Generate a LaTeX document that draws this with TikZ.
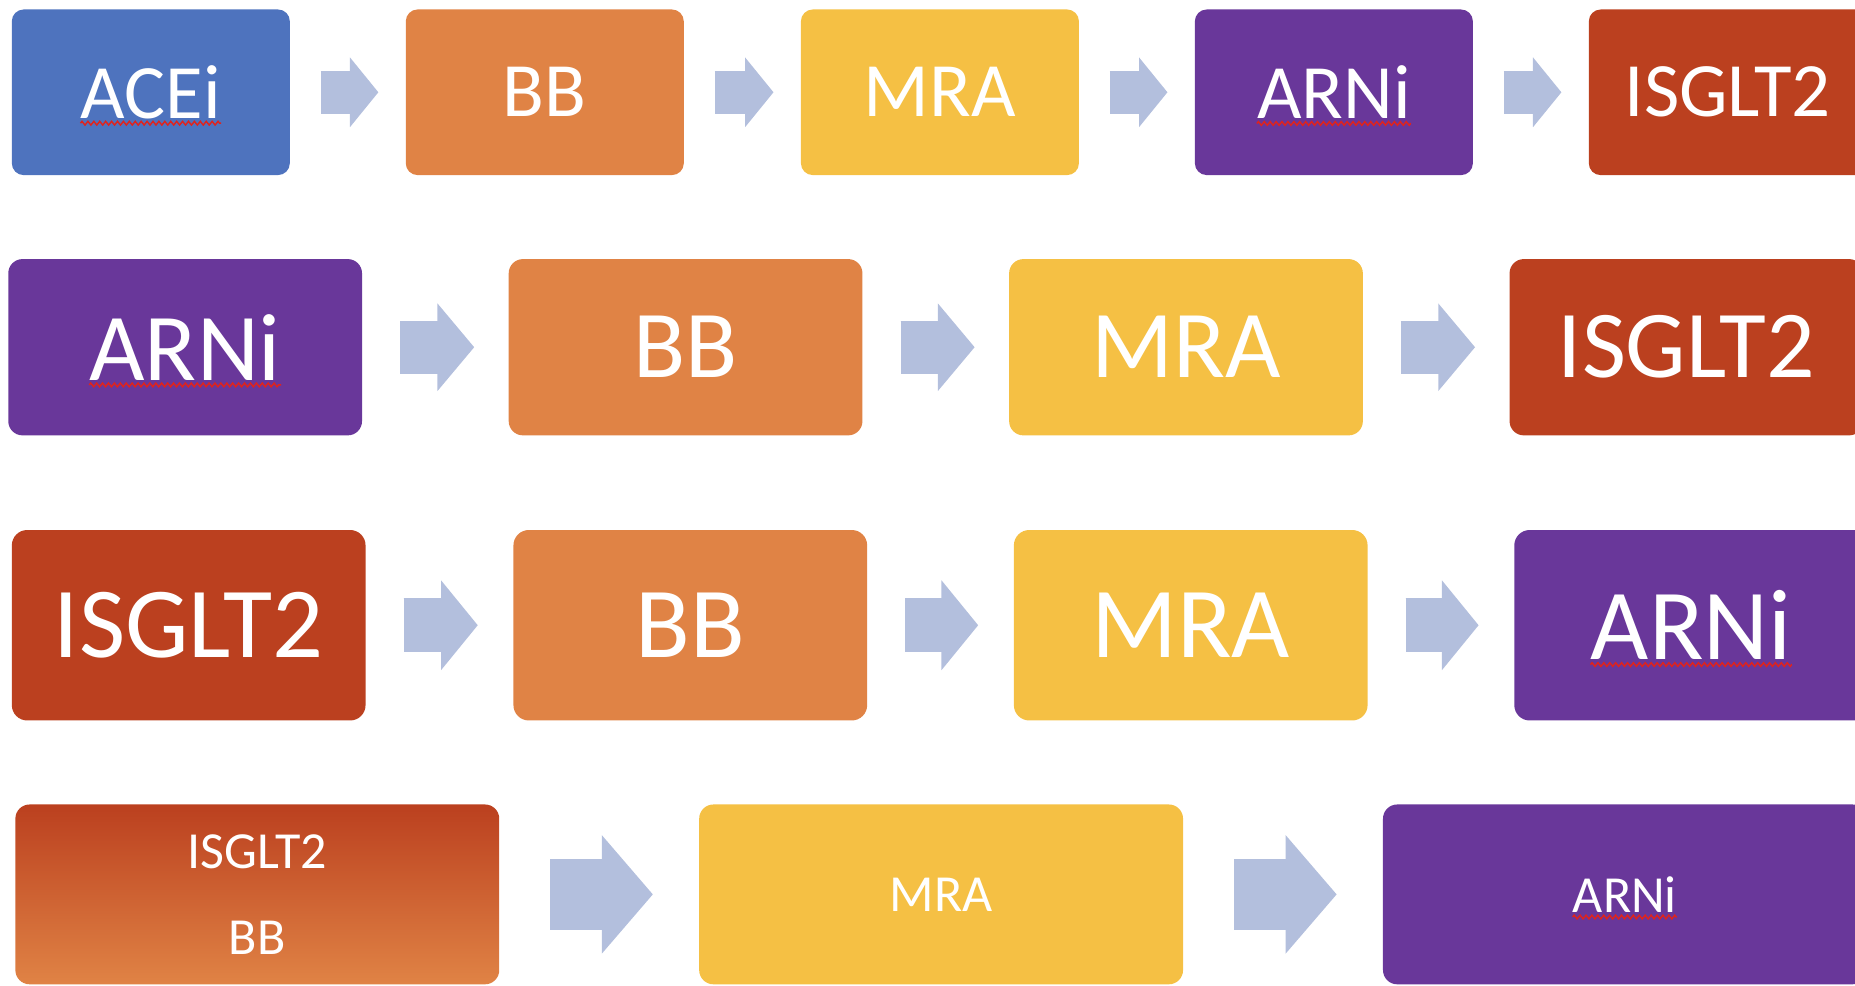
\documentclass[tikz,border=0pt]{standalone}
\usepackage{fontspec}
\setmainfont{Carlito}
\usetikzlibrary{arrows.meta, decorations.pathmorphing}
\definecolor{aceblue}{HTML}{4E73BE}
\definecolor{bborange}{HTML}{E08345}
\definecolor{mrayellow}{HTML}{F5C044}
\definecolor{arnipurple}{HTML}{69379A}
\definecolor{isgltred}{HTML}{BB401F}
\definecolor{flowblue}{HTML}{B3BFDD}
\definecolor{spellred}{HTML}{E0231C}
\begin{document}
\begin{tikzpicture}[x = 1pt, y = -1pt,
  box/.style = {text = white, inner sep = 0pt},
  fontone/.style = {font = \fontsize{65}{65}\selectfont},
  fonttwo/.style = {font = \fontsize{81}{81}\selectfont},
  fontthree/.style = {font = \fontsize{85}{85}\selectfont},
  fontfour/.style = {font = \fontsize{44}{73}\selectfont},
  rowone/.style = {box, fontone, rounded corners = 10pt, minimum width = 235pt, minimum height = 140pt},
  rowtwo/.style = {box, fonttwo, rounded corners = 12pt, minimum width = 299pt, minimum height = 149pt},
  rowthree/.style = {box, fontthree, rounded corners = 13pt, minimum width = 299pt, minimum height = 161pt},
  rowfour/.style = {box, fontfour, rounded corners = 12pt, minimum width = 409pt, minimum height = 152pt, align = center},
  word/.style = {text = white, inner sep = 0pt},
  spell/.style = {draw = spellred, line width = 1.2pt, decorate, decoration = {zigzag, amplitude = 1.6pt, segment length = 5pt}},
  flowone/.style = {draw = flowblue, line width = 36pt, shorten <= 26pt, shorten >= 23pt, -{Triangle[length = 24pt, width = 59pt, line width = 0pt]},
    postaction = {draw, -, shorten >= 44pt}},
  flowtwo/.style = {draw = flowblue, line width = 45pt, shorten <= 32pt, shorten >= 29pt, -{Triangle[length = 31pt, width = 74pt, line width = 0pt]},
    postaction = {draw, -, shorten >= 56pt}},
  flowthree/.style = {draw = flowblue, line width = 46pt, shorten <= 32pt, shorten >= 30pt, -{Triangle[length = 31pt, width = 76pt, line width = 0pt]},
    postaction = {draw, -, shorten >= 57pt}},
  flowfour/.style = {draw = flowblue, line width = 60pt, shorten <= 43pt, shorten >= 39pt, -{Triangle[length = 43pt, width = 100pt, line width = 0pt]},
    postaction = {draw, -, shorten >= 78pt}}]
\useasboundingbox (0,0) rectangle (1568,833);

\node[rowone, fill = aceblue] (acei1) at (127.5,78) {};
\node[rowone, fill = bborange] (bb1) at (460.5,78) {BB};
\node[rowone, fill = mrayellow] (mra1) at (794.5,78) {MRA};
\node[rowone, fill = arnipurple] (arni1) at (1127.5,78) {};
\node[rowone, fill = isgltred] (isglt1) at (1460.5,78) {ISGLT2};
\node[word, fontone] (acei1w) at (acei1) {ACEi};
\node[word, fontone] (arni1w) at (arni1) {ARNi};
\foreach \a/\b in {acei1/bb1, bb1/mra1, mra1/arni1, arni1/isglt1}
  \draw[flowone] (\a) -- (\b);

\node[rowtwo, fill = arnipurple] (arni2) at (156.5,293.5) {};
\node[rowtwo, fill = bborange] (bb2) at (579.5,293.5) {BB};
\node[rowtwo, fill = mrayellow] (mra2) at (1002.5,293.5) {MRA};
\node[rowtwo, fill = isgltred] (isglt2) at (1425.5,293.5) {ISGLT2};
\node[word, fonttwo] (arni2w) at (arni2) {ARNi};
\foreach \a/\b in {arni2/bb2, bb2/mra2, mra2/isglt2}
  \draw[flowtwo] (\a) -- (\b);

\node[rowthree, fill = isgltred] (isglt3) at (159.5,528.5) {ISGLT2};
\node[rowthree, fill = bborange] (bb3) at (583.5,528.5) {BB};
\node[rowthree, fill = mrayellow] (mra3) at (1006.5,528.5) {MRA};
\node[rowthree, fill = arnipurple] (arni3) at (1429.5,528.5) {};
\node[word, fontthree] (arni3w) at (arni3) {ARNi};
\foreach \a/\b in {isglt3/bb3, bb3/mra3, mra3/arni3}
  \draw[flowthree] (\a) -- (\b);

\node[rowfour, top color = isgltred, bottom color = bborange] (combo4) at (217.5,756) {ISGLT2\\BB};
\node[rowfour, fill = mrayellow] (mra4) at (795.5,756) {MRA};
\node[rowfour, fill = arnipurple] (arni4) at (1373.5,756) {};
\node[word, fontfour] (arni4w) at (arni4) {ARNi};
\foreach \a/\b in {combo4/mra4, mra4/arni4}
  \draw[flowfour] (\a) -- (\b);

\foreach \w in {acei1w, arni1w, arni2w, arni3w, arni4w}
  \draw[spell] ([yshift = -4pt]\w.base west) -- ([yshift = -4pt]\w.base east);
\end{tikzpicture}
\end{document}
